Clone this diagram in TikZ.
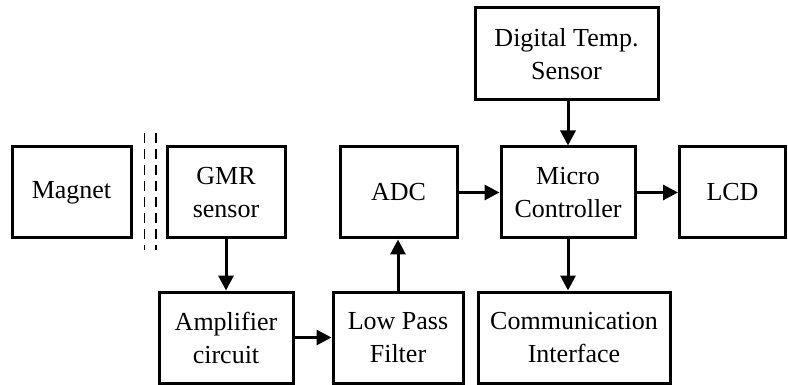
\documentclass[tikz,border=0pt]{standalone}
\usepackage{fontspec}
\setmainfont{Liberation Serif}
\usetikzlibrary{arrows.meta}

\begin{document}
\begin{tikzpicture}[x=1pt, y=-1pt,
  every node/.style={font=\fontsize{26}{33}\selectfont},
  block/.style={draw, line width=3pt, align=center, minimum height=91pt, inner sep=0pt},
  flow/.style={-{Triangle[length=15pt, width=15pt]}, line width=3pt},
  shield/.style={line width=1.5pt, dash pattern=on 10pt off 6pt}]
  \useasboundingbox (0,0) rectangle (788,385);

  % Top row
  \node[block, minimum width=119pt] (magnet) at (71.5,192.5) {Magnet};
  \node[block, minimum width=118pt] (gmr) at (226,192.5) {GMR\\sensor};
  \node[block, minimum width=117pt] (adc) at (398.5,192.5) {ADC};
  \node[block, minimum width=134pt] (micro) at (568,192.5) {Micro\\Controller};
  \node[block, minimum width=106pt] (lcd) at (732.5,192.5) {LCD};
  \node[block, minimum width=183pt, minimum height=92pt] (temp) at (566.5,54) {Digital Temp.\\Sensor};

  % Bottom row
  \node[block, minimum width=134pt] (amp) at (226,337.5) {Amplifier\\circuit};
  \node[block, minimum width=130pt] (lpf) at (398,337.5) {Low Pass\\Filter};
  \node[block, minimum width=192pt] (comm) at (574,337.5) {Communication\\Interface};

  % Shield between magnet and sensor
  \coordinate (s1a) at (144.5,133);
  \coordinate (s1b) at (144.5,250);
  \coordinate (s2a) at (156,133);
  \coordinate (s2b) at (156,250);
  \draw[shield] (s1a) -- (s1b);
  \draw[shield] (s2a) -- (s2b);

  % Signal path
  \draw[flow] (gmr.south) -- (amp.north);
  \draw[flow] (amp.east) -- (lpf.west);
  \draw[flow] (lpf.north) -- (lpf.north |- adc.south);
  \draw[flow] (adc.east) -- (micro.west);
  \draw[flow] (temp.south -| micro.north) -- (micro.north);
  \draw[flow] (micro.east) -- (lcd.west);
  \draw[flow] (micro.south) -- (micro.south |- comm.north);
\end{tikzpicture}
\end{document}
